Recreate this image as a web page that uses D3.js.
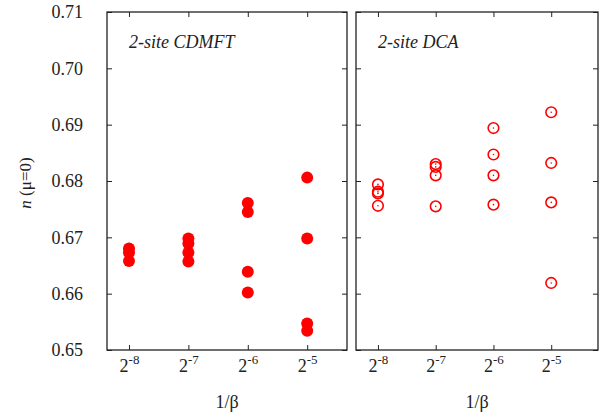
<!DOCTYPE html>
<html>
<head>
<meta charset="utf-8">
<script src="https://cdn.jsdelivr.net/npm/d3@7"></script>
<style>
  body { margin: 0; background: #fff; }
</style>
</head>
<body>
<script>
// exponents of 1/beta (2^e)
var exponents = [-8, -7, -6, -5];
var yTicks = [0.65, 0.66, 0.67, 0.68, 0.69, 0.70, 0.71];

// n(mu=0), one list per exponent
var cdmft = [
    [0.6680, 0.6673, 0.6658],
    [0.6698, 0.6689, 0.6673, 0.6657],
    [0.6761, 0.6745, 0.6639, 0.6602],
    [0.6806, 0.6698, 0.6547, 0.6534]
];
var dca = [
    [0.6794, 0.6781, 0.6778, 0.6756],
    [0.6830, 0.6825, 0.6810, 0.6755],
    [0.6894, 0.6847, 0.6810, 0.6758],
    [0.6922, 0.6832, 0.6762, 0.6619]
];

var serif = "'Liberation Serif', 'Times New Roman', Times, 'DejaVu Serif', serif";

var svg = d3.select("body")
    .append("svg")
    .attr("width", 604)
    .attr("height", 414)
    .style("font-family", serif);

var plotTop = 12, plotBottom = 350;

var y = d3.scaleLinear()
    .domain([0.65, 0.71])
    .range([plotBottom, plotTop]);

var panels = [
    { title: "2-site CDMFT", data: cdmft, x0: 107, x1: 347, lo: -8.37, hi: -4.33, filled: true, labels: true },
    { title: "2-site DCA", data: dca, x0: 356, x1: 598, lo: -8.38, hi: -4.19, filled: false, labels: false }
];

panels.forEach(function (p) {
    var x = d3.scaleLog()
        .base(2)
        .domain([Math.pow(2, p.lo), Math.pow(2, p.hi)])
        .range([p.x0, p.x1]);
    var tickVals = exponents.map(function (e) { return Math.pow(2, e); });

    var g = svg.append("g");

    // bottom axis with superscript labels
    var bx = g.append("g")
        .attr("transform", "translate(0," + plotBottom + ")")
        .call(d3.axisBottom(x).tickValues(tickVals).tickSizeInner(-5).tickSizeOuter(0).tickPadding(9).tickFormat(""));
    bx.selectAll(".tick text").each(function (d) {
        var t = d3.select(this)
            .attr("font-size", 18)
            .attr("font-family", serif)
            .attr("fill", "#222");
        t.append("tspan").text("2");
        t.append("tspan").attr("font-size", 13).attr("dy", "-0.6em").text(String(Math.round(Math.log2(d))));
    });

    g.append("g")
        .attr("transform", "translate(0," + plotTop + ")")
        .call(d3.axisTop(x).tickValues(tickVals).tickSizeInner(-5).tickSizeOuter(0).tickFormat(""));

    var ly = g.append("g")
        .attr("transform", "translate(" + p.x0 + ",0)")
        .call(d3.axisLeft(y).tickValues(yTicks).tickSizeInner(-5).tickSizeOuter(0).tickPadding(24)
            .tickFormat(p.labels ? d3.format(".2f") : ""));
    ly.selectAll(".tick text")
        .attr("font-size", 18)
        .attr("font-family", serif)
        .attr("fill", "#222");

    g.append("g")
        .attr("transform", "translate(" + p.x1 + ",0)")
        .call(d3.axisRight(y).tickValues(yTicks).tickSizeInner(-5).tickSizeOuter(0).tickFormat(""));

    g.selectAll(".domain").remove();
    g.selectAll(".tick line").attr("stroke", "#222");

    // frame
    g.append("rect")
        .attr("x", p.x0)
        .attr("y", plotTop)
        .attr("width", p.x1 - p.x0)
        .attr("height", plotBottom - plotTop)
        .attr("fill", "none")
        .attr("stroke", "#222")
        .attr("stroke-width", 1.3);

    g.append("text")
        .attr("x", p.x0 + 22)
        .attr("y", 48)
        .attr("font-size", 18)
        .attr("font-style", "italic")
        .attr("fill", "#222")
        .text(p.title);

    g.append("text")
        .attr("x", (p.x0 + p.x1) / 2)
        .attr("y", 408)
        .attr("text-anchor", "middle")
        .attr("font-size", 18)
        .attr("fill", "#222")
        .text("1/\u03b2");

    // points
    var pts = [];
    p.data.forEach(function (vals, i) {
        vals.forEach(function (v) { pts.push({ e: exponents[i], v: v }); });
    });

    var pg = g.append("g");
    pg.selectAll("circle.pt")
        .data(pts)
        .enter()
        .append("circle")
        .attr("class", "pt")
        .attr("cx", function (d) { return x(Math.pow(2, d.e)); })
        .attr("cy", function (d) { return y(d.v); })
        .attr("r", p.filled ? 6 : 5.3)
        .attr("fill", p.filled ? "#ff0000" : "none")
        .attr("stroke", "#ff0000")
        .attr("stroke-width", p.filled ? 0 : 1.6);

    if (!p.filled) {
        pg.selectAll("circle.dot")
            .data(pts)
            .enter()
            .append("circle")
            .attr("class", "dot")
            .attr("cx", function (d) { return x(Math.pow(2, d.e)); })
            .attr("cy", function (d) { return y(d.v); })
            .attr("r", 0.8)
            .attr("fill", "#ff0000");
    }
});

// y axis title
var yl = svg.append("text")
    .attr("transform", "translate(31,183) rotate(-90)")
    .attr("text-anchor", "middle")
    .attr("font-size", 17)
    .attr("fill", "#222");
yl.append("tspan").attr("font-style", "italic").text("n");
yl.append("tspan").text(" (\u03bc=0)");
</script>
</body>
</html>
